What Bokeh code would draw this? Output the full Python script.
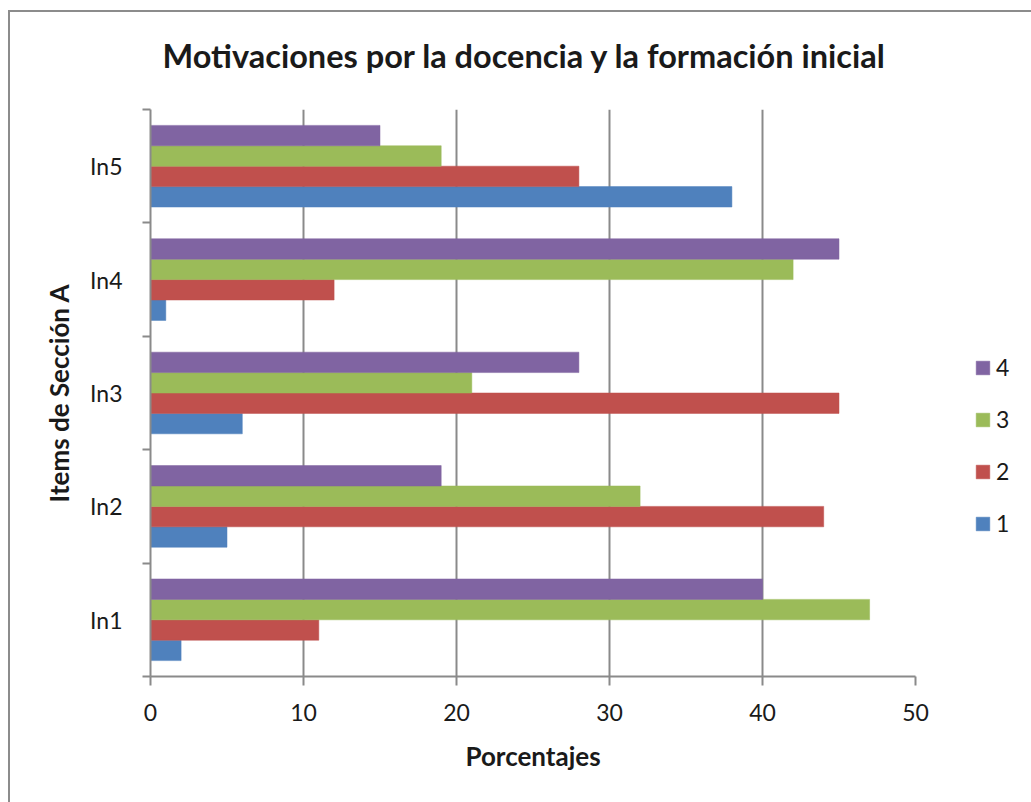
from bokeh.plotting import figure
from bokeh.models import (ColumnDataSource, FixedTicker, Legend, LegendItem,
                          Range1d)
from bokeh.embed import file_html
from bokeh.resources import INLINE

# Items of section A, listed bottom to top
items = ["In1", "In2", "In3", "In4", "In5"]
# Percentage of answers per rating level (1..4) for each item
level_1 = [2, 5, 6, 1, 38]
level_2 = [11, 44, 45, 12, 28]
level_3 = [47, 32, 21, 42, 19]
level_4 = [40, 19, 28, 45, 15]
series_names = ["1", "2", "3", "4"]
series_values = [level_1, level_2, level_3, level_4]
series_colors = ["#4F81BD", "#C0504D", "#9BBB59", "#8064A2"]
x_ticks = [0, 10, 20, 30, 40, 50]

FONT = "Lato"
TEXT = "#1a1a1a"
AXIS_GRAY = "#8a8a8a"
EDGE = "#8c8c8c"

p = figure(frame_width=765, frame_height=567, output_backend="svg",
           toolbar_location=None,
           x_range=Range1d(0, 50), y_range=Range1d(0, len(items)),
           min_border_left=150, min_border_right=116, min_border_top=109,
           min_border_bottom=126)
# transparent canvas border so the chart-area edge drawn on the host shows
p.border_fill_color = None
p.background_fill_color = "white"
p.styles = {
    "background": (f"linear-gradient({EDGE},{EDGE}) 8px 10px / 2px 100% no-repeat, "
                   f"linear-gradient({EDGE},{EDGE}) 8px 10px / 100% 2px no-repeat, "
                   "white")
}

p.title.text = "Motivaciones por la docencia y la formación inicial"
p.title.align = "left"
p.title.offset = 12
p.title.vertical_align = "middle"
p.title.text_font = FONT
p.title.text_font_size = "32.5px"
p.title.text_font_style = "bold"
p.title.text_color = TEXT
p.title.standoff = 68

bar_h = 0.18
offsets = [-0.27, -0.09, 0.09, 0.27]
renderers = []
for name, vals, col, off in zip(series_names, series_values, series_colors, offsets):
    src = ColumnDataSource(dict(y=[i + 0.5 + off for i in range(len(items))],
                                right=vals))
    r = p.hbar(y="y", left=0, right="right", height=bar_h, source=src,
               fill_color=col, line_color=col, line_alpha=0.5, line_width=1)
    renderers.append(r)

# x axis
p.xaxis.ticker = FixedTicker(ticks=x_ticks)
p.xaxis.axis_label = "Porcentajes"
p.xaxis.axis_line_color = AXIS_GRAY
p.xaxis.axis_line_width = 2
p.xaxis.major_tick_line_color = AXIS_GRAY
p.xaxis.major_tick_line_width = 2
p.xaxis.major_tick_out = 9
p.xaxis.major_tick_in = 0
p.xaxis.minor_tick_line_color = None
p.xaxis.major_label_standoff = 18
p.xaxis.major_label_text_font = FONT
p.xaxis.major_label_text_font_size = "23px"
p.xaxis.major_label_text_color = TEXT
p.xaxis.axis_label_text_font = FONT
p.xaxis.axis_label_text_font_size = "26px"
p.xaxis.axis_label_text_font_style = "bold"
p.xaxis.axis_label_text_color = TEXT
p.xaxis.axis_label_standoff = 16

# y axis: labels at band centres, tick marks at band boundaries
centres = [i + 0.5 for i in range(len(items))]
p.yaxis.ticker = FixedTicker(ticks=centres,
                             minor_ticks=list(range(len(items) + 1)))
p.yaxis.major_label_overrides = {c: lab for c, lab in zip(centres, items)}
p.yaxis.axis_label = "Items de Sección A"
p.yaxis.axis_line_color = AXIS_GRAY
p.yaxis.axis_line_width = 2
p.yaxis.major_tick_line_color = None
p.yaxis.major_tick_out = 0
p.yaxis.major_tick_in = 0
p.yaxis.minor_tick_line_color = AXIS_GRAY
p.yaxis.minor_tick_line_width = 2
p.yaxis.minor_tick_out = 8
p.yaxis.minor_tick_in = 0
p.yaxis.major_label_standoff = 20
p.yaxis.major_label_text_font = FONT
p.yaxis.major_label_text_font_size = "23px"
p.yaxis.major_label_text_color = TEXT
p.yaxis.axis_label_text_font = FONT
p.yaxis.axis_label_text_font_size = "26px"
p.yaxis.axis_label_text_font_style = "bold"
p.yaxis.axis_label_text_color = TEXT
p.yaxis.axis_label_standoff = 12

p.xgrid.grid_line_color = AXIS_GRAY
p.xgrid.grid_line_width = 2
p.ygrid.grid_line_color = None
p.outline_line_color = None

legend = Legend(items=[LegendItem(label=n, renderers=[r])
                       for n, r in reversed(list(zip(series_names, renderers)))],
                location=(59, 139), orientation="vertical",
                border_line_color=None, background_fill_alpha=0,
                glyph_width=17, glyph_height=17, label_standoff=5,
                spacing=24, padding=0, margin=0,
                label_text_font=FONT, label_text_font_size="23px",
                label_text_color=TEXT)
p.add_layout(legend, "right")

open("out.html", "w").write(file_html(p, INLINE))
